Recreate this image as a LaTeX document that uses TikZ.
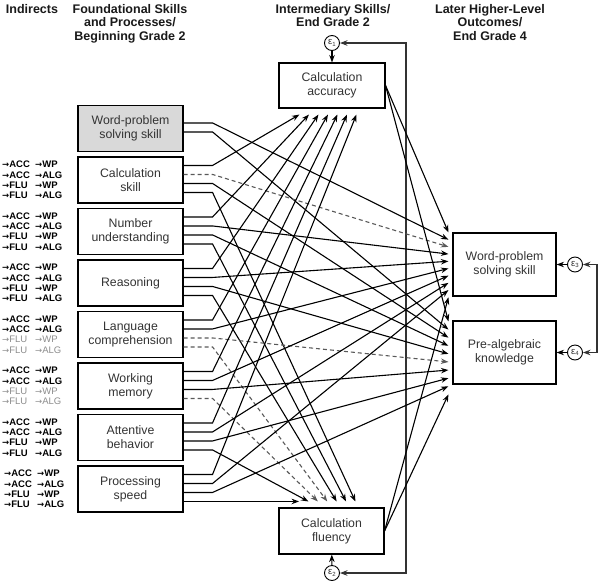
\documentclass[tikz,border=0pt]{standalone}
\usepackage{fontspec}
\setmainfont{Liberation Sans}
\newfontfamily\arrfont{DejaVu Sans}
\usetikzlibrary{arrows.meta}
\newcommand{\arr}{{\arrfont\fontsize{8.5}{8.5}\selectfont →}}
\newcommand{\ind}[2]{\makebox[33pt][l]{\arr#1}\arr#2}
\newcommand{\gind}[2]{{\mdseries\color{black!45}\ind{#1}{#2}}}
\newcommand{\eps}[1]{ε\raisebox{-1.5pt}{\fontsize{6}{6}\selectfont#1}}
\begin{document}
\begin{tikzpicture}[x=1pt,y=-1pt,>={Stealth[length=7.5pt,width=5.5pt]},
	box/.style={draw,line width=1.1pt,minimum width=105pt,minimum height=46pt,inner sep=0pt,align=center,text=black!80,font=\fontsize{12.3}{14}\selectfont},
	err/.style={draw,circle,line width=0.9pt,minimum size=15pt,inner sep=0pt,text=black!80,font=\fontsize{9.5}{9.5}\selectfont},
	head/.style={anchor=north,align=center,inner sep=0pt,text=black!90,font=\bfseries\fontsize{12.5}{13.5}\selectfont},
	ind/.style={anchor=west,align=left,inner sep=0pt,font=\bfseries\fontsize{9.5}{10.3}\selectfont},
	link/.style={->,line width=1.1pt},
	ns/.style={link,dash pattern=on 4pt off 3pt,black!65}]
	\useasboundingbox (0,0) rectangle (600,587);
	% headers
	\node[head] (hind) at (32,4) {Indirects};
	\node[head] (hfound) at (130,4) {Foundational Skills\\and Processes/\\Beginning Grade 2};
	\node[head] (hinter) at (333,4) {Intermediary Skills/\\End Grade 2};
	\node[head] (hlater) at (490,4) {Later Higher-Level\\Outcomes/\\End Grade 4};
	% foundational skills
	\node[box,fill=black!15] (wp0) at (130.5,128.5) {Word-problem\\solving skill};
	\node[box] (cs) at (130.5,180) {Calculation\\skill};
	\node[box] (nu) at (130.5,231.5) {Number\\understanding};
	\node[box] (re) at (130.5,283) {Reasoning};
	\node[box] (lc) at (130.5,334.5) {Language\\comprehension};
	\node[box] (wm) at (130.5,386) {Working\\memory};
	\node[box] (ab) at (130.5,437.5) {Attentive\\behavior};
	\node[box] (ps) at (130.5,489) {Processing\\speed};
	% indirects
	\node[ind] (ics) at (2,180) {\ind{ACC}{WP}\\\ind{ACC}{ALG}\\\ind{FLU}{WP}\\\ind{FLU}{ALG}};
	\node[ind] (inu) at (2,231.5) {\ind{ACC}{WP}\\\ind{ACC}{ALG}\\\ind{FLU}{WP}\\\ind{FLU}{ALG}};
	\node[ind] (ire) at (2,283) {\ind{ACC}{WP}\\\ind{ACC}{ALG}\\\ind{FLU}{WP}\\\ind{FLU}{ALG}};
	\node[ind] (ilc) at (2,334.5) {\ind{ACC}{WP}\\\ind{ACC}{ALG}\\\gind{FLU}{WP}\\\gind{FLU}{ALG}};
	\node[ind] (iwm) at (2,386) {\ind{ACC}{WP}\\\ind{ACC}{ALG}\\\gind{FLU}{WP}\\\gind{FLU}{ALG}};
	\node[ind] (iab) at (2,437.5) {\ind{ACC}{WP}\\\ind{ACC}{ALG}\\\ind{FLU}{WP}\\\ind{FLU}{ALG}};
	\node[ind] (ips) at (4,489) {\ind{ACC}{WP}\\\ind{ACC}{ALG}\\\ind{FLU}{WP}\\\ind{FLU}{ALG}};
	% intermediary skills and outcomes
	\node[box,minimum width=106pt,minimum height=45pt] (acc) at (332,85.5) {Calculation\\accuracy};
	\node[box] (flu) at (331.5,531) {Calculation\\fluency};
	\node[box,minimum width=103pt,minimum height=63pt] (wp) at (504.5,264.5) {Word-problem\\solving skill};
	\node[box,minimum width=103pt,minimum height=63pt] (alg) at (504.5,352.5) {Pre-algebraic\\knowledge};
	% residuals
	\node[err] (e1) at (332,43) {\eps{1}};
	\node[err] (e2) at (332,573) {\eps{2}};
	\node[err] (e3) at (575,264.5) {\eps{3}};
	\node[err] (e4) at (575,352.5) {\eps{4}};
	\draw[link] (e1) -- (acc);
	\draw[link] (e2) -- (flu);
	\draw[link] (e3) -- (wp);
	\draw[link] (e4) -- (alg);
	\draw[<->,line width=1.1pt,black!80] (e1.east) -- ++(66,0) |- (e2.east);
	\draw[<->,line width=1.1pt,black!80] (e3.east) -- ++(14,0) |- (e4.east);
	% paths
	\draw[link] ([yshift=-18pt]wp0.north east) -- ++(29,0) -- ([xshift=-4pt,yshift=-7.2pt]wp.north west);
	\draw[link] ([yshift=-27pt]wp0.north east) -- ++(29,0) -- ([xshift=-4pt,yshift=-9.1pt]alg.north west);
	\foreach \n/\sa/\sw/\sg/\sf [count=\k from 0] in {cs/link/ns/link/link,nu/link/link/link/link,re/link/link/link/link,lc/link/link/ns/ns,wm/link/link/link/ns,ab/link/link/link/link,ps/link/link/link/link}{
		\draw[\sa] ([yshift=-9pt]\n.north east) -- ++(29,0) -- ([xshift=21pt+9.5pt*\k,yshift=-6pt]acc.south west);
		\draw[\sw] ([yshift=-18pt]\n.north east) -- ++(29,0) -- ([xshift=-4pt,yshift=-14.4pt-7.2pt*\k]wp.north west);
		\draw[\sg] ([yshift=-27pt]\n.north east) -- ++(29,0) -- ([xshift=-4pt,yshift=-17.2pt-8.1pt*\k]alg.north west);
		\draw[\sf] ([yshift=-36pt]\n.north east) -- ++(29,0) -- ([xshift=77pt-9.4pt*\k,yshift=6pt]flu.north west);
	}
	\draw[link] (acc.east) -- ([xshift=-4pt]wp.north west);
	\draw[link] (acc.east) -- ([xshift=-4pt,yshift=-1pt]alg.north west);
	\draw[link] (flu.east) -- ([xshift=-4pt,yshift=-64.8pt]wp.north west);
	\draw[link] (flu.east) -- ([xshift=-4pt,yshift=-73.9pt]alg.north west);
\end{tikzpicture}
\end{document}
